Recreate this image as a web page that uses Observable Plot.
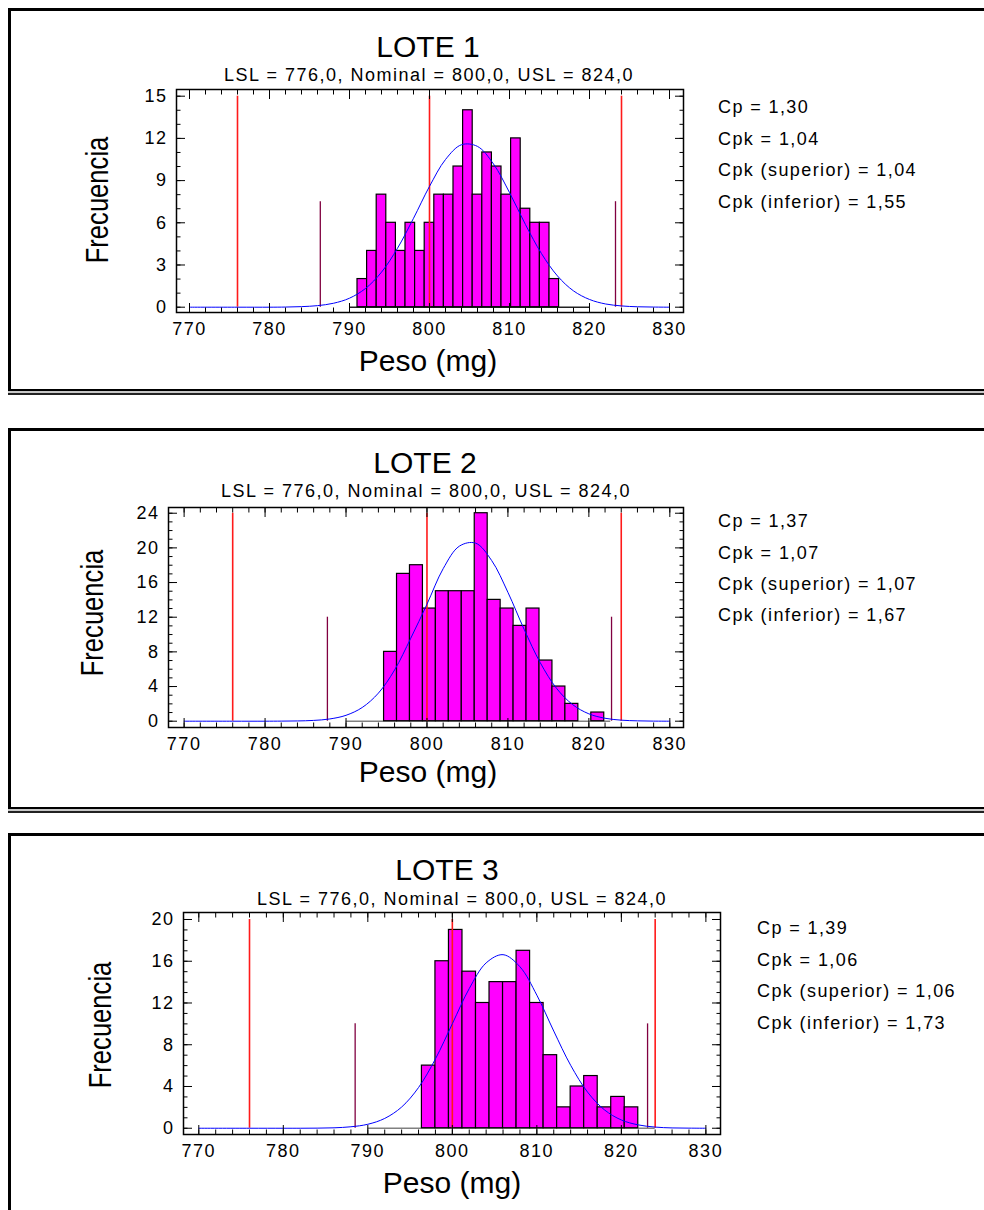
<!DOCTYPE html>
<html>
<head>
<meta charset="utf-8">
<script src="https://cdn.jsdelivr.net/npm/d3@7"></script>
<script src="https://cdn.jsdelivr.net/npm/@observablehq/plot@0.6"></script>
<style>
  body { margin: 0; background: #fff; }
  #page { position: relative; width: 984px; height: 1210px; overflow: hidden;
          font-family: "Liberation Sans", Arial, Helvetica, sans-serif; color: #000; }
  .box { position: absolute; left: 8px; width: 1000px; background: #fff;
         border-top: 3px solid #000; border-left: 3px solid #000; border-right: 3px solid #000;
         border-bottom: 2px solid #000; box-shadow: 0 2px 0 0 #c8c8c8, 0 4px 0 0 #222; }
  .t { position: absolute; white-space: nowrap; transform: translate(-50%, -50%); line-height: 1; }
  .title { font-size: 30px; }
  .sub { font-size: 18px; letter-spacing: 1.5px; }
  .xlab { font-size: 30px; }
  .ylab { font-size: 32px; transform: translate(-50%, -50%) rotate(-90deg) scaleX(0.8); }
  .s { position: absolute; white-space: nowrap; transform: translateY(-50%); font-size: 18px;
       letter-spacing: 1.4px; line-height: 1; }
  svg.plotpanel { position: absolute; background: transparent; }
</style>
</head>
<body>
<div id="page"></div>
<script>
// ---------- data ----------
const xTicks = [770, 780, 790, 800, 810, 820, 830];
const specLimits = [776, 800, 824]; // LSL, Nominal, USL
const subtitleText = "LSL = 776,0, Nominal = 800,0, USL = 824,0";
const xLabel = "Peso (mg)";
const yLabel = "Frecuencia";

const curveX = [770, 776, 780, 782, 784, 786, 788, 790, 792, 794, 796, 798, 800, 802, 804,
                806, 808, 810, 812, 814, 816, 818, 820, 822, 824, 826, 828, 830];

// LOTE 1
const lote1Counts = [2, 4, 8, 6, 4, 6, 4, 6, 8, 8, 10, 14, 8, 11, 10, 8, 12, 7, 6, 6, 2];
const lote1BinStart = 791.0;
const lote1BinWidth = 1.2;
const lote1YTicks = [0, 3, 6, 9, 12, 15];
const lote1SigmaLimits = [786.35, 823.25];
const lote1Baseline = [790, 820];
const lote1CurveY = [0, 0, 0, 0.01, 0.04, 0.11, 0.28, 0.64, 1.33, 2.49, 4.19, 6.32, 8.59, 10.5, 11.55,
                     11.43, 10.18, 8.15, 5.87, 3.81, 2.22, 1.16, 0.55, 0.23, 0.09, 0.03, 0.01, 0];
const lote1Stats = ["Cp = 1,30", "Cpk = 1,04", "Cpk (superior) = 1,04", "Cpk (inferior) = 1,55"];

// LOTE 2
const lote2Counts = [8, 17, 18, 13, 15, 15, 15, 24, 14, 13, 11, 13, 7, 4, 2, 0, 1];
const lote2BinStart = 794.7;
const lote2BinWidth = 1.6;
const lote2YTicks = [0, 4, 8, 12, 16, 20, 24];
const lote2SigmaLimits = [787.7, 822.8];
const lote2Baseline = [790, 822.7];
const lote2CurveY = [0, 0, 0, 0.01, 0.03, 0.09, 0.26, 0.68, 1.58, 3.24, 5.91, 9.58, 13.5, 17.6, 20.2,
                     20.55, 18.53, 14.87, 10.61, 6.74, 3.80, 1.91, 0.85, 0.34, 0.12, 0.04, 0.01, 0];
const lote2Stats = ["Cp = 1,37", "Cpk = 1,07", "Cpk (superior) = 1,07", "Cpk (inferior) = 1,67"];

// LOTE 3
const lote3Counts = [6, 16, 19, 15, 12, 14, 14, 17, 12, 7, 2, 4, 5, 2, 3, 2];
const lote3BinStart = 796.4;
const lote3BinWidth = 1.6;
const lote3YTicks = [0, 4, 8, 12, 16, 20];
const lote3SigmaLimits = [788.5, 823.1];
const lote3Baseline = [790, 824];
const lote3CurveY = [0, 0, 0, 0, 0.01, 0.04, 0.14, 0.38, 0.94, 2.03, 3.90, 6.64, 10.01, 13.38, 15.84,
                     16.63, 15.47, 12.75, 9.31, 6.03, 3.46, 1.76, 0.79, 0.32, 0.11, 0.03, 0.01, 0];
const lote3Stats = ["Cp = 1,39", "Cpk = 1,06", "Cpk (superior) = 1,06", "Cpk (inferior) = 1,73"];

// ---------- layout ----------
const panels = [
  { name: "LOTE 1", counts: lote1Counts, start: lote1BinStart, width: lote1BinWidth, yTicks: lote1YTicks,
    sigma: lote1SigmaLimits, base: lote1Baseline, curveY: lote1CurveY, stats: lote1Stats,
    L: { boxTop: 8, boxH: 378, frame: [176, 683, 89, 312], xDom: [768.375, 831.75], yDom: [-0.377, 15.476],
         title: [428, 47], sub: [429, 75], xlab: [428, 361], ylab: [97, 200], stats: [718, [107, 139, 170, 202]],
         baseColor: "#222" } },
  { name: "LOTE 2", counts: lote2Counts, start: lote2BinStart, width: lote2BinWidth, yTicks: lote2YTicks,
    sigma: lote2SigmaLimits, base: lote2Baseline, curveY: lote2CurveY, stats: lote2Stats,
    L: { boxTop: 428, boxH: 376, frame: [168, 683, 507, 727], xDom: [768.07, 831.69], yDom: [-0.727, 24.66],
         title: [425, 463], sub: [426, 491], xlab: [428, 772], ylab: [92, 613], stats: [718, [521, 553, 584, 615]],
         baseColor: "#808080" } },
  { name: "LOTE 3", counts: lote3Counts, start: lote3BinStart, width: lote3BinWidth, yTicks: lote3YTicks,
    sigma: lote3SigmaLimits, base: lote3Baseline, curveY: lote3CurveY, stats: lote3Stats,
    L: { boxTop: 833, boxH: 420, frame: [183, 720, 912, 1134], xDom: [768.19, 831.73], yDom: [-0.60, 20.67],
         title: [447, 870], sub: [462, 899], xlab: [452, 1183], ylab: [100, 1025], stats: [757, [928, 960, 991, 1023]],
         baseColor: "#808080" } }
];

const page = document.getElementById("page");
function addText(cls, txt, x, y) {
  const d = document.createElement("div");
  d.className = cls;
  d.textContent = txt;
  d.style.left = x + "px";
  d.style.top = y + "px";
  page.appendChild(d);
}

const xMinor = d3.range(770, 831, 2);

for (const p of panels) {
  const L = p.L;
  const box = document.createElement("div");
  box.className = "box";
  box.style.top = L.boxTop + "px";
  box.style.height = L.boxH + "px";
  page.appendChild(box);
}

for (const p of panels) {
  const L = p.L;
  const bins = p.counts.map((c, i) => ({ x1: p.start + i * p.width, x2: p.start + (i + 1) * p.width, count: c }))
                       .filter(d => d.count > 0);
  const curve = curveX.map((x, i) => ({ x, y: p.curveY[i] }));
  const yMax = p.yTicks[p.yTicks.length - 1];
  const yMinor = d3.range(0, yMax + 1, 1);
  const ml = 70, mr = 10, mt = 10, mb = 40;
  const svg = Plot.plot({
    width: L.frame[1] - L.frame[0] + ml + mr,
    height: L.frame[3] - L.frame[2] + mt + mb,
    marginLeft: ml, marginRight: mr, marginTop: mt, marginBottom: mb,
    x: { domain: L.xDom },
    y: { domain: L.yDom },
    style: { fontFamily: "'Liberation Sans', Arial, Helvetica, sans-serif", fontSize: "18px",
             letterSpacing: "1.5px", color: "#000", background: "transparent", overflow: "visible" },
    marks: [
      Plot.ruleY([0], { x1: p.base[0], x2: p.base[1], stroke: L.baseColor, strokeWidth: 1.5 }),
      Plot.rect(bins, { x1: "x1", x2: "x2", y1: 0, y2: "count", fill: "#ff00ff", stroke: "#000", strokeWidth: 1.2 }),
      Plot.ruleX(p.sigma, { y1: 0, y2: yMax / 2, stroke: "#800040", strokeWidth: 1.3 }),
      Plot.ruleX(specLimits, { y1: 0, y2: yMax, stroke: "#ff1a1a", strokeWidth: 1.6 }),
      Plot.line(curve, { x: "x", y: "y", stroke: "#0000ff", strokeWidth: 1, curve: "catmull-rom" }),
      Plot.frame({ stroke: "#000", strokeWidth: 1.5 }),
      Plot.axisX(xTicks, { anchor: "bottom", tickSize: 0, tickPadding: 10, label: null }),
      Plot.axisX(xTicks, { anchor: "bottom", tickSize: -9, fill: "none", label: null }),
      Plot.axisX(xMinor, { anchor: "bottom", tickSize: -4.5, fill: "none", label: null }),
      Plot.axisX(xTicks, { anchor: "top", tickSize: -9, fill: "none", label: null }),
      Plot.axisX(xMinor, { anchor: "top", tickSize: -4.5, fill: "none", label: null }),
      Plot.axisY(p.yTicks, { anchor: "left", tickSize: 0, tickPadding: 9, label: null }),
      Plot.axisY(p.yTicks, { anchor: "left", tickSize: -9, fill: "none", label: null }),
      Plot.axisY(yMinor, { anchor: "left", tickSize: -4.5, fill: "none", label: null }),
      Plot.axisY(p.yTicks, { anchor: "right", tickSize: -9, fill: "none", label: null }),
      Plot.axisY(yMinor, { anchor: "right", tickSize: -4.5, fill: "none", label: null })
    ]
  });
  svg.classList.add("plotpanel");
  svg.style.left = (L.frame[0] - ml) + "px";
  svg.style.top = (L.frame[2] - mt) + "px";
  page.appendChild(svg);

  addText("t title", p.name, L.title[0], L.title[1]);
  addText("t sub", subtitleText, L.sub[0], L.sub[1]);
  addText("t xlab", xLabel, L.xlab[0], L.xlab[1]);
  addText("t ylab", yLabel, L.ylab[0], L.ylab[1]);
  p.stats.forEach((s, i) => addText("s", s, L.stats[0], L.stats[1][i]));
}
</script>
</body>
</html>
